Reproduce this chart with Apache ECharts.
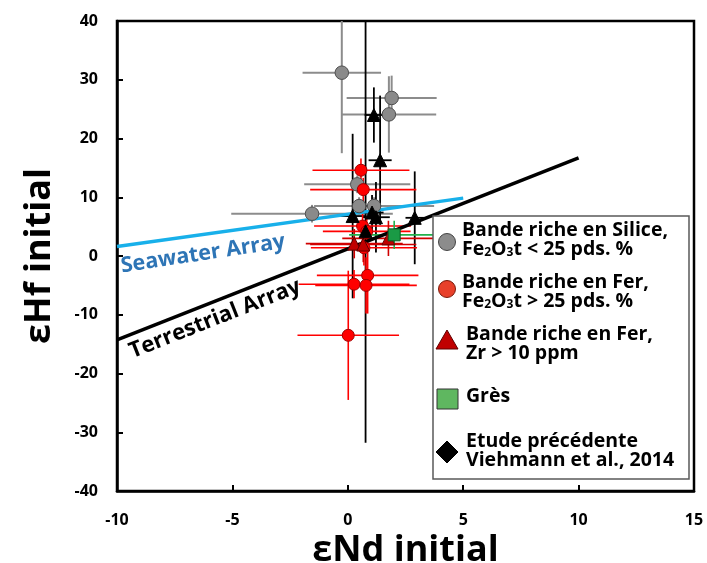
<!DOCTYPE html>
<html>
<head>
<meta charset="utf-8">
<script src="https://cdn.jsdelivr.net/npm/echarts@6/dist/echarts.min.js"></script>
<style>
html, body { margin: 0; padding: 0; background: #fff; }
#chart { width: 707px; height: 563px; }
</style>
</head>
<body>
<div id="chart"></div>
<script>
// [eNd, eHf, err eNd, err eHf]
var silicaPts = [
    [-0.26, 31.2, 1.7, 13.7],
    [1.9, 26.9, 1.95, 3.8],
    [1.78, 24.1, 2.05, 6.5],
    [0.41, 12.2, 2.3, 1.5],
    [0.49, 8.5, 1.5, 1.5],
    [1.14, 8.5, 2.6, 1.5],
    [-1.55, 7.2, 3.5, 1.5]
];
var ironPts = [
    [0.57, 14.6, 2.1, 2.0],
    [0.67, 11.3, 2.3, 2.0],
    [0.64, 5.1, 2.1, 2.5],
    [0.82, 4.2, 1.9, 2.5],
    [0.7, 1.4, 2.3, 3.0],
    [0.86, -3.3, 2.2, 6.5],
    [0.27, -4.8, 2.4, 2.4],
    [0.79, -5.0, 2.2, 4.8],
    [0.02, -13.5, 2.2, 11.0]
];
var zrPts = [
    [0.28, 2.1, 2.1, 2.5],
    [0.67, 1.95, 2.3, 3.0],
    [1.76, 3.0, 2.0, 3.0]
];
var gresPts = [
    [2.01, 3.6, 1.95, 2.4]
];
var viehmannPts = [
    [1.13, 24.0, 0.4, 4.7],
    [1.4, 16.3, 0.5, 11.0],
    [0.21, 6.8, 0.6, 14.0],
    [0.77, 4.2, 0.3, 36.0],
    [1.05, 7.4, 0.5, 3.0],
    [1.22, 6.6, 0.6, 6.0],
    [2.9, 6.5, 0.4, 7.9]
];
var seawaterArray = [[-10, 1.6], [5, 9.85]];
var terrestrialArray = [[-10, -14.29], [10, 16.71]];

var chart = echarts.init(document.getElementById('chart'));
var font = '"Open Sans", "DejaVu Sans", sans-serif';

function errBars(color, width) {
    return function(params, api) {
        var x = api.value(0), y = api.value(1), ex = api.value(2), ey = api.value(3);
        var l = api.coord([x - ex, y]), r = api.coord([x + ex, y]);
        var t = api.coord([x, Math.min(y + ey, 40)]), b = api.coord([x, Math.max(y - ey, -40)]);
        return {
            type: 'group',
            children: [
                {type: 'line', shape: {x1: l[0], y1: l[1], x2: r[0], y2: r[1]}, style: {stroke: color, lineWidth: width}},
                {type: 'line', shape: {x1: t[0], y1: t[1], x2: b[0], y2: b[1]}, style: {stroke: color, lineWidth: width}}
            ]
        };
    };
}

function errSeries(data, color, width) {
    return {
        type: 'custom',
        data: data,
        z: 2,
        silent: true,
        encode: {x: 0, y: 1},
        renderItem: errBars(color, width)
    };
}

function pts(data, symbol, size, fill, border) {
    return {
        type: 'scatter',
        data: data.map(function(d) { return [d[0], d[1]]; }),
        symbol: symbol,
        symbolSize: size,
        z: 4,
        itemStyle: {color: fill, borderColor: border, borderWidth: 1, opacity: 1}
    };
}

var sub = {fontSize: 12, fontWeight: 'bold', fontFamily: font, fill: '#000', verticalAlign: 'bottom'};
function legendText(x, y, text) {
    return {
        type: 'text', x: x, y: y, z: 101,
        style: {
            text: text,
            font: 'bold 19.5px ' + font,
            fill: '#000',
            lineHeight: 19,
            rich: {s: sub}
        }
    };
}

chart.setOption({
    animation: false,
    grid: {
        left: 117, right: 13, top: 21, bottom: 72,
        outerBoundsMode: 'none', containLabel: false,
        show: true, borderColor: '#000', borderWidth: 2.5
    },
    xAxis: {
        type: 'value', min: -10, max: 15, interval: 5,
        name: 'εNd initial', nameLocation: 'middle', nameGap: 41,
        nameTextStyle: {fontSize: 36, fontWeight: 'bold', fontFamily: font, color: '#000'},
        axisLine: {onZero: false, lineStyle: {color: '#000', width: 2.5}},
        axisTick: {inside: true, length: 6, lineStyle: {color: '#000', width: 2}},
        axisLabel: {fontSize: 16, fontWeight: 'bold', fontFamily: font, color: '#000', margin: 21},
        splitLine: {show: false}
    },
    yAxis: {
        type: 'value', min: -40, max: 40, interval: 10,
        name: 'εHf initial', nameLocation: 'middle', nameGap: 59, nameRotate: 90,
        nameTextStyle: {fontSize: 36, fontWeight: 'bold', fontFamily: font, color: '#000'},
        axisLine: {onZero: false, lineStyle: {color: '#000', width: 2.5}},
        axisTick: {inside: true, length: 6, lineStyle: {color: '#000', width: 2}},
        axisLabel: {fontSize: 16, fontWeight: 'bold', fontFamily: font, color: '#000', margin: 19},
        splitLine: {show: false}
    },
    series: [
        errSeries(silicaPts, '#8c8c8c', 2),
        errSeries(viehmannPts, '#000', 1.8),
        errSeries(ironPts, '#ff0000', 1.6),
        errSeries(zrPts, '#d00000', 1.6),
        errSeries(gresPts, '#22b14c', 1.6),
        {
            type: 'line', data: seawaterArray, symbol: 'none', z: 3, silent: true,
            lineStyle: {color: '#18b0ea', width: 3.5}
        },
        {
            type: 'line', data: terrestrialArray, symbol: 'none', z: 3, silent: true,
            lineStyle: {color: '#000', width: 3.5}
        },
        pts(silicaPts, 'circle', 13.5, '#8a8a8a', '#4d4d4d'),
        pts(ironPts, 'circle', 12, '#ff0000', '#a00000'),
        pts(zrPts, 'triangle', 13, '#c00000', '#600000'),
        pts(gresPts, 'rect', 12, '#1a9a45', '#0b5a25'),
        pts(viehmannPts, 'triangle', 13, '#000', '#000')
    ],
    graphic: [
        {
            type: 'text', x: 203, y: 254, rotation: 0.15, z: 50,
            style: {text: 'Seawater Array', font: 'bold 21.5px ' + font, fill: '#2e75b6', align: 'center', verticalAlign: 'middle'}
        },
        {
            type: 'text', x: 215, y: 319, rotation: 0.376, z: 50,
            style: {text: 'Terrestrial Array', font: 'bold 22px ' + font, fill: '#000', align: 'center', verticalAlign: 'middle'}
        },
        {
            type: 'rect', z: 100,
            shape: {x: 433, y: 216, width: 256, height: 263},
            style: {fill: '#fff', stroke: '#595959', lineWidth: 1.5}
        },
        {type: 'circle', z: 101, shape: {cx: 447, cy: 242, r: 8.5}, style: {fill: '#8c8c8c', stroke: '#444', lineWidth: 1}},
        legendText(462, 221, 'Bande riche en Silice,\nFe{s|2}O{s|3}t < 25 pds. %'),
        {type: 'circle', z: 101, shape: {cx: 447, cy: 289, r: 8.5}, style: {fill: '#e8402a', stroke: '#7a1a0a', lineWidth: 1}},
        legendText(462, 273, 'Bande riche en Fer,\nFe{s|2}O{s|3}t > 25 pds. %'),
        {type: 'polygon', z: 101, shape: {points: [[447, 330], [458, 349], [436, 349]]}, style: {fill: '#c00000', stroke: '#600000', lineWidth: 1}},
        legendText(466, 325, 'Bande riche en Fer,\nZr > 10 ppm'),
        {type: 'rect', z: 101, shape: {x: 437, y: 389, width: 21, height: 20}, style: {fill: '#5fb760', stroke: '#333', lineWidth: 1}},
        legendText(466, 387, 'Grès'),
        {type: 'polygon', z: 101, shape: {points: [[447, 440], [459, 452], [447, 464], [435, 452]]}, style: {fill: '#000', stroke: '#fff', lineWidth: 1}},
        legendText(466, 432, 'Etude précédente\nViehmann et al., 2014')
    ]
});
</script>
</body>
</html>
